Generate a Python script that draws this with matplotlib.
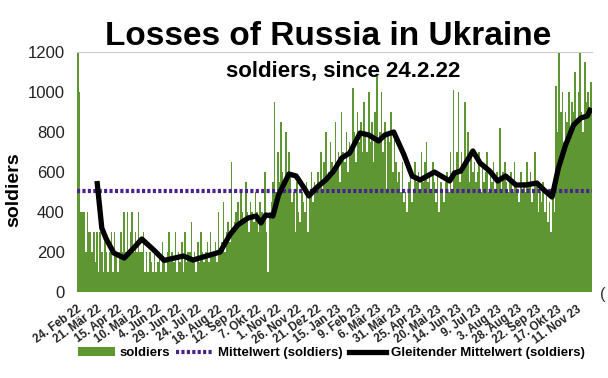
import matplotlib
matplotlib.use("Agg")
import matplotlib.pyplot as plt
from matplotlib.patches import Patch
from matplotlib.lines import Line2D

plt.rcParams['font.family'] = ['Liberation Sans', 'DejaVu Sans']

# daily losses, one value every 2 days starting 24.2.22
soldiers = [
    2800, 1000, 400, 400, 400, 200, 400, 300, 300, 200,
    300, 150, 300, 100, 300, 200, 100, 300, 200, 100,
    200, 300, 100, 300, 200, 100, 200, 300, 200, 400,
    200, 400, 200, 300, 400, 200, 300, 200, 400, 200,
    200, 300, 100, 200, 100, 200, 150, 100, 200, 100,
    150, 200, 100, 250, 150, 100, 200, 300, 150, 200,
    150, 300, 100, 200, 150, 250, 100, 300, 150, 200,
    200, 350, 150, 200, 100, 250, 150, 300, 200, 150,
    200, 250, 150, 300, 200, 200, 250, 150, 400, 200,
    250, 450, 200, 300, 350, 250, 650, 300, 350, 400,
    450, 350, 500, 400, 350, 550, 400, 300, 450, 400,
    350, 500, 400, 300, 450, 400, 350, 600, 300, 100,
    400, 450, 550, 950, 500, 700, 550, 850, 600, 500,
    800, 550, 700, 600, 450, 500, 300, 550, 400, 350,
    500, 450, 400, 550, 300, 500, 600, 450, 550, 500,
    600, 550, 700, 500, 650, 800, 550, 600, 750, 650,
    600, 850, 650, 700, 550, 900, 700, 650, 800, 600,
    750, 700, 1020, 800, 650, 900, 750, 850, 700, 950,
    800, 700, 1000, 750, 850, 650, 900, 1080, 750, 800,
    1000, 700, 850, 500, 800, 750, 900, 600, 800, 650,
    550, 600, 500, 650, 450, 500, 400, 550, 600, 450,
    500, 650, 550, 600, 500, 700, 550, 650, 750, 550,
    600, 500, 650, 550, 450, 600, 400, 550, 500, 450,
    550, 600, 500, 700, 500, 1010, 600, 700, 1000, 550,
    700, 600, 950, 650, 800, 550, 700, 600, 650, 550,
    600, 700, 500, 650, 550, 600, 700, 500, 600, 550,
    650, 500, 600, 550, 820, 500, 600, 650, 550, 500,
    550, 600, 500, 650, 550, 500, 450, 600, 500, 550,
    500, 650, 550, 600, 450, 500, 700, 550, 400, 500,
    450, 550, 400, 500, 350, 450, 300, 500, 400, 1030,
    800, 1200, 900, 1000, 750, 900, 850, 1000, 800, 950,
    900, 1100, 850, 1000, 1250, 900, 800, 1150, 950, 1000,
    900, 1050, 800,
]
step_days = 2

mittelwert = 505

# moving average (days since 24.2.22, value)
ma_days = [25, 31, 36, 46, 59, 71, 81, 96, 109, 133, 145, 162, 179, 191, 201,
           214, 224, 230, 236, 245, 252, 265, 274, 284, 290, 299, 311, 321,
           331, 341, 354, 365, 377, 385, 396, 409, 419, 429, 447, 466, 472,
           480, 495, 504, 516, 526, 536, 549, 561, 575, 584, 594, 602, 611,
           621, 630, 638, 643]
ma_vals = [555, 320, 270, 195, 170, 220, 265, 210, 158, 180, 160, 180, 200, 285, 335,
           370, 380, 345, 385, 380, 485, 590, 580, 520, 480, 520, 560, 605,
           670, 695, 795, 785, 755, 785, 800, 685, 580, 560, 600, 555, 595,
           605, 705, 645, 605, 555, 580, 535, 535, 545, 510, 475, 620, 735,
           835, 870, 880, 920]

tick_labels = ["24. Feb 22", "21. Mär 22", "15. Apr 22", "10. Mai 22", "4. Jun 22",
               "29. Jun 22", "24. Jul 22", "18. Aug 22", "12. Sep 22", "7. Okt 22",
               "1. Nov 22", "26. Nov 22", "21. Dez 22", "15. Jan 23", "9. Feb 23",
               "6. Mär 23", "31. Mär 23", "25. Apr 23", "20. Mai 23", "14. Jun 23",
               "9. Jul 23", "3. Aug 23", "28. Aug 23", "22. Sep 23", "17. Okt 23",
               "11. Nov 23"]
tick_step = 25

green = '#5e9732'
purple = '#4a2290'
dots = (0, (0.75, 0.55))

fig = plt.figure(figsize=(6.08, 3.78), dpi=100)
ax = fig.add_axes([77/608, 1-292/378, 515/608, 240/378])

days = [i*step_days for i in range(len(soldiers))]
ax.bar(days, soldiers, width=step_days, align='edge', color=green, linewidth=0)
ax.axhline(mittelwert, color=purple, linewidth=3, linestyle=dots)
ax.plot(ma_days, ma_vals, color='black', linewidth=3.8, solid_capstyle='butt')

ax.set_xlim(0, 644)
ax.set_ylim(0, 1200)
ax.set_yticks(range(0, 1201, 200))
ax.set_yticks([200], minor=True)
ax.tick_params(axis='y', length=0, pad=9, labelsize=12, colors='#222222')
ax.tick_params(axis='y', which='minor', length=7, width=0.8, color='#555555')
ax.set_xticks([i*tick_step for i in range(len(tick_labels))])
ax.set_xticklabels(tick_labels, rotation=36, ha='right', rotation_mode='anchor',
                   fontsize=8.3, fontweight='bold', color='#222222')
ax.tick_params(axis='x', length=0, pad=8)

for s in ['left', 'right', 'bottom']:
    ax.spines[s].set_visible(False)
ax.spines['top'].set_color('#cccccc')
ax.spines['top'].set_linewidth(0.8)

fig.text(328/608, 1-45/378, "Losses of Russia in Ukraine", ha='center', va='baseline',
         fontsize=24, fontweight='bold')
fig.text(343/608, 1-76/378, "soldiers, since 24.2.22", ha='center', va='baseline',
         fontsize=16, fontweight='bold')
fig.text(14/608, 1-190/378, "soldiers", rotation=90, ha='center', va='center',
         fontsize=14, fontweight='bold')
fig.text(600/608, 1-294/378, "(", ha='left', va='center', fontsize=12, color='#333333')

handles = [Patch(facecolor=green, edgecolor='none'),
           Line2D([], [], color=purple, linewidth=3, linestyle=dots),
           Line2D([], [], color='black', linewidth=3.8)]
labels = ["soldiers", "Mittelwert (soldiers)", "Gleitender Mittelwert (soldiers)"]
fig.legend(handles, labels, loc='center', bbox_to_anchor=(331/608, 1-353/378), ncol=3,
           frameon=False, prop={'size': 9.5, 'weight': 'bold'}, handlelength=2.8,
           handleheight=0.6, handletextpad=0.35, columnspacing=0.5, borderpad=0)

fig.savefig("out.png", dpi=100)
